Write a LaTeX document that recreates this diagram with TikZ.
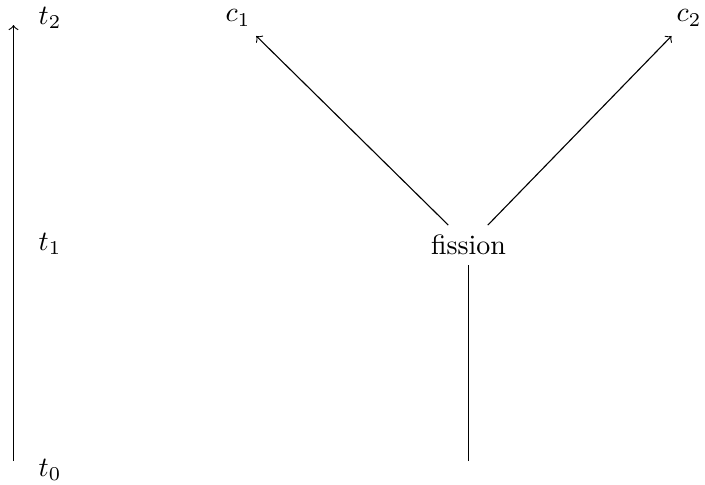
\documentclass[tikz,border=0pt]{standalone}
\begin{document}
\begin{tikzpicture}[x=0.3572pt,y=-0.3572pt,
  lbl/.style={inner sep=3.33pt},
  line/.style={draw=black, line width=0.4pt}]
\useasboundingbox (0,0) rectangle (705,484);
\node[lbl] (t2) at (50,18) {$t_2$};
\node[lbl] (t1) at (50,244) {$t_1$};
\node[lbl] (t0) at (50,470) {$t_0$};
\node[lbl] (c1) at (238,18) {$c_1$};
\node[lbl] (c2) at (689,18) {$c_2$};
\node[lbl] (fission) at (468.5,245) {fission};
\coordinate (tb) at (13.5,461);
\coordinate (tt) at (13.5,25);
\coordinate (fb) at (468.5,461);
\draw[line,->] (tb) -- (tt);
\draw[line] (fb) -- (fission);
\draw[line,->] (fission) -- (c1);
\draw[line,->] (fission) -- (c2);
\end{tikzpicture}
\end{document}
